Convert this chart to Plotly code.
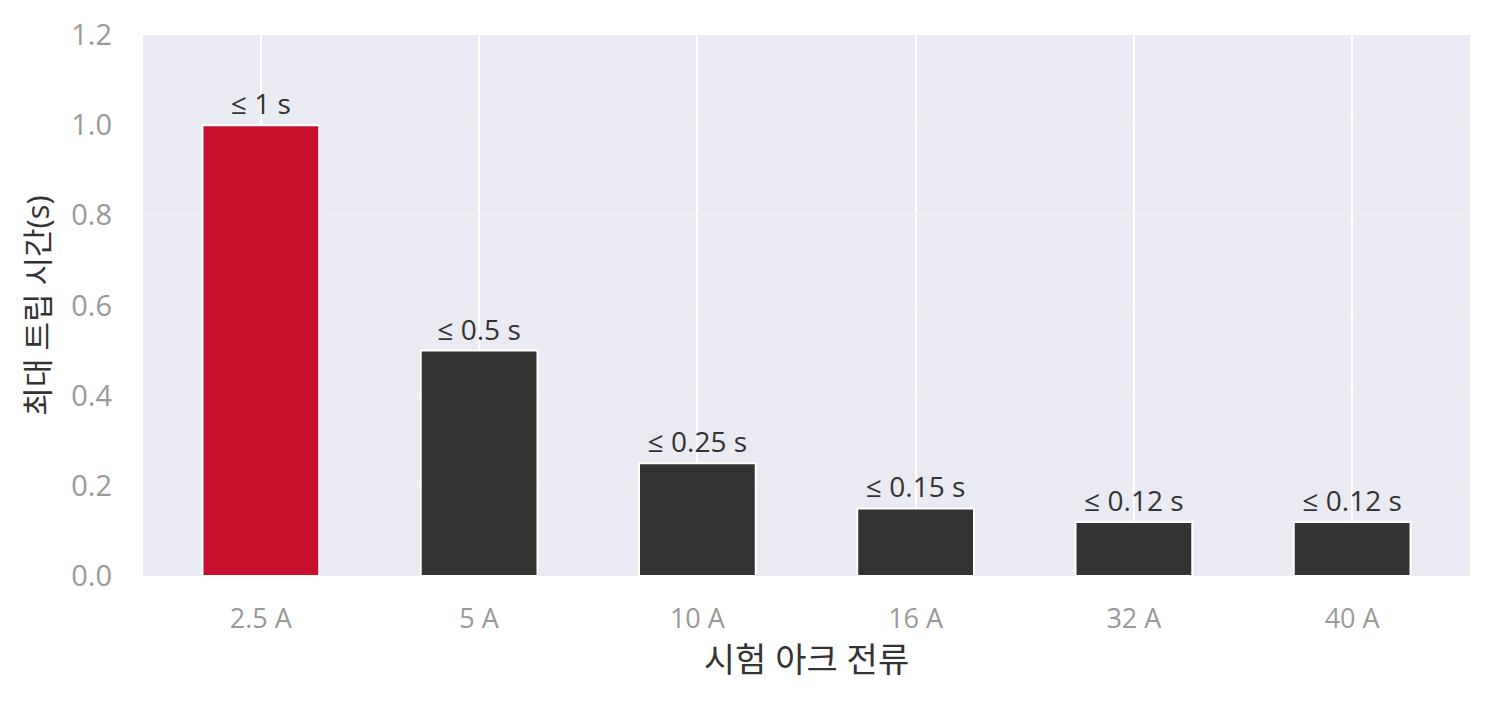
import plotly.graph_objects as go

currents = ["2.5 A", "5 A", "10 A", "16 A", "32 A", "40 A"]
trip_times = [1.0, 0.5, 0.25, 0.15, 0.12, 0.12]
labels = ["≤ 1 s", "≤ 0.5 s", "≤ 0.25 s", "≤ 0.15 s", "≤ 0.12 s", "≤ 0.12 s"]
bar_colors = ["#C8102E", "#333333", "#333333", "#333333", "#333333", "#333333"]

FONT = "Open Sans, Noto Sans CJK KR"

fig = go.Figure()
fig.add_trace(go.Bar(
    x=currents, y=trip_times,
    width=0.535,
    marker=dict(color=bar_colors, line=dict(color="white", width=2)),
    text=labels, textposition="outside", cliponaxis=False,
    textfont=dict(family=FONT, size=28, color="#333333"),
))

fig.update_layout(
    width=1492, height=702,
    margin=dict(l=135, r=30, t=27, b=134),
    paper_bgcolor="white", plot_bgcolor="#EAEAF2",
    showlegend=False,
    font=dict(family=FONT),
)
fig.update_xaxes(
    range=[-0.54, 5.54], automargin=False,
    showgrid=True, gridcolor="white", gridwidth=1.5,
    tickfont=dict(size=27, color="#999999"),
    ticks="", ticklabelstandoff=24,
    title=dict(text="시험 아크 전류", font=dict(size=34, color="#333333"), standoff=2),
)
fig.update_yaxes(
    range=[0, 1.2], dtick=0.2, tickformat=".1f", automargin=False,
    showgrid=True, gridcolor="#EFEFF5", gridwidth=1,
    zeroline=False,
    tickfont=dict(size=29, color="#999999"),
    ticks="", ticklabelstandoff=30,
    title=dict(text="최대 트립 시간(s)", font=dict(size=31, color="#333333"), standoff=12),
)

fig.write_html("out.html")
